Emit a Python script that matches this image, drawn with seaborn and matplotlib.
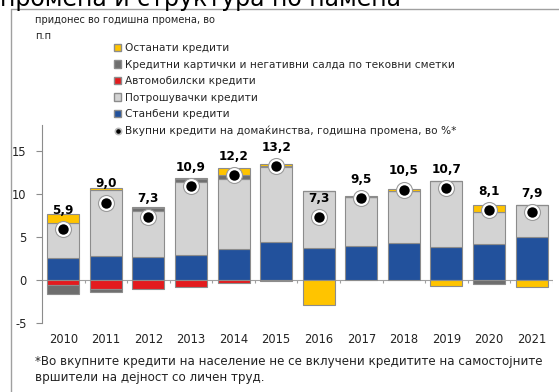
import numpy as np
import pandas as pd
import matplotlib
matplotlib.use("Agg")
import matplotlib.pyplot as plt
from matplotlib.patches import Patch
from matplotlib.lines import Line2D
import seaborn as sns

sns.set_theme(style="white")
plt.rcParams["font.family"] = ["DejaVu Sans"]

# Contributions to annual change in household loans, percentage points
years = [str(y) for y in range(2010, 2022)]
housing = [2.5, 2.8, 2.65, 2.9, 3.6, 4.45, 3.7, 3.95, 4.25, 3.8, 4.15, 5.05]
consumer = [4.1, 7.7, 5.35, 8.5, 8.1, 8.65, 6.65, 5.65, 6.05, 7.7, 3.8, 3.65]
auto = [-0.6, -1.05, -1.05, -0.8, -0.3, -0.1, 0.0, 0.0, 0.0, 0.0, 0.0, 0.0]
cards = [-1.0, -0.4, 0.4, 0.3, 0.5, 0.15, 0.0, 0.0, 0.0, 0.0, -0.5, 0.0]
other = [1.1, 0.15, 0.1, 0.1, 0.8, 0.25, -2.9, 0.1, 0.25, -0.7, 0.75, -0.8]
total = [5.9, 9.0, 7.3, 10.9, 12.2, 13.2, 7.3, 9.5, 10.5, 10.7, 8.1, 7.9]

labels = {
    "other": "Останати кредити",
    "cards": "Кредитни картички и негативни салда по тековни сметки",
    "auto": "Автомобилски кредити",
    "consumer": "Потрошувачки кредити",
    "housing": "Станбени кредити",
    "total": "Вкупни кредити на домаќинства, годишна промена, во %*",
}
colors = {
    "housing": "#22519C",
    "consumer": "#D3D3D3",
    "auto": "#E31B1E",
    "cards": "#6E6E6E",
    "other": "#FFC400",
}

fig = plt.figure(figsize=(5.59, 3.92), dpi=100)
ax = fig.add_axes([0.0751, 0.176, 0.989 - 0.0751, 0.681 - 0.176])

# stacked bars: positives stack upward, negatives stack downward
series = [("housing", housing), ("consumer", consumer), ("auto", auto),
          ("cards", cards), ("other", other)]
pos_base = np.zeros(len(years))
neg_base = np.zeros(len(years))
for key, vals in series:
    v = np.asarray(vals, dtype=float)
    bottom = np.where(v >= 0, pos_base, neg_base)
    sns.barplot(x=years, y=v, bottom=bottom, color=colors[key], width=0.75,
                errorbar=None, saturation=1, edgecolor="#8C8C8C",
                linewidth=0.8, ax=ax, zorder=3)
    pos_base = pos_base + np.where(v > 0, v, 0)
    neg_base = neg_base + np.where(v < 0, v, 0)

# total growth markers with a light halo
sns.stripplot(x=years, y=total, jitter=False, size=11.5, color="white",
              edgecolor="#9A9A9A", linewidth=0.8, ax=ax, zorder=5)
sns.stripplot(x=years, y=total, jitter=False, size=7.5, color="black",
              linewidth=0, ax=ax, zorder=6)

for i, t in enumerate(total):
    ax.annotate(f"{t:.1f}".replace(".", ","), (i, t), xytext=(0, 13.5),
                textcoords="offset points", ha="center", va="center",
                fontsize=8.7, fontweight="bold", color="black", zorder=7)

ax.set_xlim(-0.5, len(years) - 0.5)
ax.set_ylim(-5, 18)
ax.set_yticks([-5, 0, 5, 10, 15])
ax.set_yticklabels(["-5", "0", "5", "10", "15"])
ax.set_xlabel("")
ax.set_ylabel("")

for s in ["top", "right", "bottom"]:
    ax.spines[s].set_visible(False)
ax.spines["left"].set_color("#8C8C8C")
ax.spines["left"].set_linewidth(0.8)
ax.tick_params(axis="y", which="both", left=True, length=4, width=0.8,
               color="#8C8C8C", labelsize=8.3, pad=7, labelcolor="#222222")
ax.tick_params(axis="x", length=0, pad=7, labelsize=8.3, labelcolor="#222222")

# zero line with category separators
ax.axhline(0, color="#A0A0A0", linewidth=0.8, zorder=2)
ax.vlines(np.arange(len(years)) + 0.5, -0.35, 0, color="#A0A0A0",
          linewidth=0.8, zorder=2)

handles = [
    Patch(facecolor=colors["other"], edgecolor="#8C8C8C", label=labels["other"]),
    Patch(facecolor=colors["cards"], edgecolor="#8C8C8C", label=labels["cards"]),
    Patch(facecolor=colors["auto"], edgecolor="#8C8C8C", label=labels["auto"]),
    Patch(facecolor=colors["consumer"], edgecolor="#8C8C8C", label=labels["consumer"]),
    Patch(facecolor=colors["housing"], edgecolor="#8C8C8C", label=labels["housing"]),
    Line2D([], [], marker="o", linestyle="none", markersize=4.5,
           markerfacecolor="black", markeredgecolor="#BBBBBB",
           markeredgewidth=1.2, label=labels["total"]),
]
fig.legend(handles=handles, loc="upper left",
           bbox_to_anchor=(114 / 559, 1 - 43 / 392), frameon=False,
           fontsize=7.6, handlelength=0.7, handleheight=0.7,
           handletextpad=0.3, labelspacing=0.62, borderpad=0,
           borderaxespad=0)

# headings and notes
fig.text(0.0, 1 - 6 / 392, "промена и структура по намена", fontsize=17,
         ha="left", va="baseline", color="black")
fig.text(35 / 559, 1 - 20 / 392, "придонес во годишна промена, во",
         fontsize=7.1, ha="left", va="center", color="#222222")
fig.text(35 / 559, 1 - 36 / 392, "п.п", fontsize=7.1, ha="left",
         va="center", color="#222222")
fig.text(35 / 559, 1 - 361 / 392,
         "*Во вкупните кредити на население не се вклучени кредитите на самостојните",
         fontsize=8.6, ha="left", va="center", color="#222222")
fig.text(35 / 559, 1 - 378 / 392, "вршители на дејност со личен труд.",
         fontsize=8.6, ha="left", va="center", color="#222222")

# panel frame
fig.add_artist(Line2D([11 / 559, 1], [1 - 9 / 392, 1 - 9 / 392],
                      transform=fig.transFigure, color="#A0A0A0", linewidth=1))
fig.add_artist(Line2D([11 / 559, 11 / 559], [0, 1 - 9 / 392],
                      transform=fig.transFigure, color="#A0A0A0", linewidth=1))

fig.savefig("out.png", dpi=100)
